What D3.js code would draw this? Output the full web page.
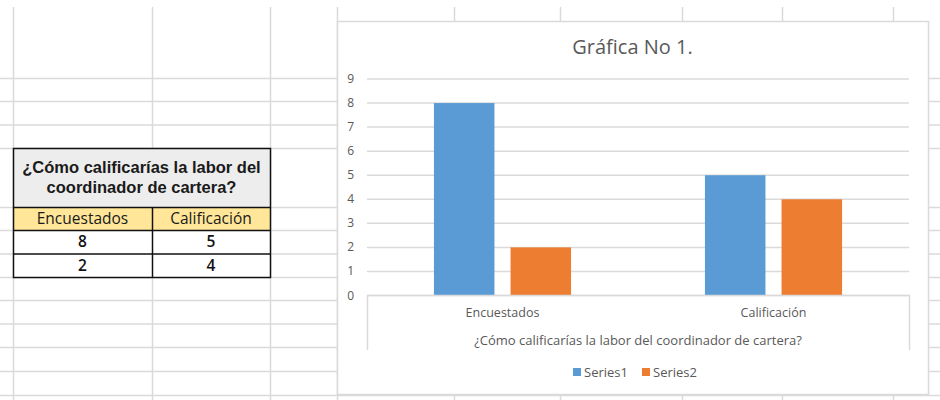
<!DOCTYPE html>
<html>
<head>
<meta charset="utf-8">
<script src="https://cdn.jsdelivr.net/npm/d3@7"></script>
<style>
  body { margin: 0; background: #fff; }
  svg { display: block; }
  text { font-family: "Open Sans", sans-serif; }
</style>
</head>
<body>
<svg id="sheet" width="940" height="400"></svg>
<script>
// data
var categories = ["Encuestados", "Calificación"];
var seriesNames = ["Series1", "Series2"];
var series1 = [8, 5];
var series2 = [2, 4];
var chartTitle = "Gráfica No 1.";
var axisTitle = "¿Cómo calificarías la labor del coordinador de cartera?";
var tableTitle = ["¿Cómo calificarías la labor del", "coordinador de cartera?"];

var colors = ["#5b9bd5", "#ed7d31"];
var gridColor = "#dadada";
var textColor = "#595959";

var svg = d3.select("#sheet");

// spreadsheet grid behind everything
var colLines = [13, 152, 270, 337, 454, 560, 682, 782, 893];
var rowLines = [78, 101, 124.5, 148, 207, 230, 253.5, 277, 300, 323.5, 347, 371, 395];

svg.selectAll(".col")
    .data(colLines)
    .enter()
    .append("line")
    .attr("x1", d => d + 0.5).attr("x2", d => d + 0.5)
    .attr("y1", 7).attr("y2", 400)
    .attr("stroke", gridColor)
    .attr("stroke-width", 1.5)

svg.selectAll(".row")
    .data(rowLines)
    .enter()
    .append("line")
    .attr("x1", 0).attr("x2", 940)
    .attr("y1", d => d + 0.5).attr("y2", d => d + 0.5)
    .attr("stroke", gridColor)
    .attr("stroke-width", 1.5)

// the table on the left
var tbl = svg.append("g")
var tx0 = 13, tx1 = 152, tx2 = 270
var ty0 = 148, ty1 = 207, ty2 = 230, ty3 = 253.5, ty4 = 277

tbl.append("rect").attr("x", tx0).attr("y", ty0).attr("width", tx2 - tx0).attr("height", ty1 - ty0).attr("fill", "#ededed")
tbl.append("rect").attr("x", tx0).attr("y", ty1).attr("width", tx2 - tx0).attr("height", ty2 - ty1).attr("fill", "#ffe699")
tbl.append("rect").attr("x", tx0).attr("y", ty2).attr("width", tx2 - tx0).attr("height", ty4 - ty2).attr("fill", "#fff")

tbl.selectAll(".ttl")
    .data(tableTitle)
    .enter()
    .append("text")
    .attr("x", (tx0 + tx2) / 2)
    .attr("y", (d, i) => 173 + i * 20)
    .attr("text-anchor", "middle")
    .style("font-family", "'Liberation Sans', Arial, sans-serif")
    .style("font-weight", "bold")
    .style("font-size", "16.5px")
    .attr("fill", "#1a1a1a")
    .text(d => d)

var colCenters = [(tx0 + tx1) / 2, (tx1 + tx2) / 2]
tbl.selectAll(".hdr")
    .data(categories)
    .enter()
    .append("text")
    .attr("x", (d, i) => colCenters[i])
    .attr("y", 224)
    .attr("text-anchor", "middle")
    .style("font-size", "15.5px")
    .attr("fill", "#1a1a1a")
    .text(d => d)

var rows = [series1, series2]
rows.forEach(function (vals, r) {
    tbl.selectAll(".v" + r)
        .data(vals)
        .enter()
        .append("text")
        .attr("x", (d, i) => colCenters[i])
        .attr("y", 247 + r * 23.5)
        .attr("text-anchor", "middle")
        .style("font-size", "15.5px")
        .style("font-weight", "600")
        .attr("fill", "#111")
        .text(d => d)
})

var border = "#111"
tbl.append("rect").attr("x", tx0 + 0.5).attr("y", ty0 + 0.5).attr("width", tx2 - tx0).attr("height", ty4 - ty0)
    .attr("fill", "none").attr("stroke", border).attr("stroke-width", 1.5)
;[ty1, ty2, ty3].forEach(function (y) {
    tbl.append("line").attr("x1", tx0).attr("x2", tx2 + 0.5).attr("y1", y + 0.5).attr("y2", y + 0.5)
        .attr("stroke", border).attr("stroke-width", 1.5)
})
tbl.append("line").attr("x1", tx1 + 0.5).attr("x2", tx1 + 0.5).attr("y1", ty1).attr("y2", ty4)
    .attr("stroke", border).attr("stroke-width", 1.5)

// the chart object
var cx0 = 337, cy0 = 21, cx1 = 928, cy1 = 394
svg.append("rect")
    .attr("x", cx0 + 0.5).attr("y", cy0 + 0.5)
    .attr("width", cx1 - cx0).attr("height", cy1 - cy0)
    .attr("fill", "#fff")
    .attr("stroke", gridColor)
    .attr("stroke-width", 1.5)

svg.append("text")
    .attr("x", (cx0 + cx1) / 2)
    .attr("y", 54)
    .attr("text-anchor", "middle")
    .style("font-size", "20px")
    .attr("fill", textColor)
    .text(chartTitle)

var plotLeft = 367, plotRight = 909
var x0 = d3.scaleBand()
    .domain(categories)
    .range([plotLeft, plotRight])
    .paddingInner(0.494)
    .paddingOuter(0.247)

var x1 = d3.scaleBand()
    .domain(seriesNames)
    .range([0, x0.bandwidth()])
    .paddingInner(0.21)

var y = d3.scaleLinear()
    .domain([0, 9])
    .range([295.5, 79])

// gridlines
svg.append("g")
    .selectAll("line")
    .data(y.ticks(9))
    .enter()
    .append("line")
    .attr("x1", plotLeft).attr("x2", plotRight)
    .attr("y1", d => y(d)).attr("y2", d => y(d))
    .attr("stroke", gridColor)
    .attr("stroke-width", 1.5)

svg.append("g")
    .selectAll("text")
    .data(y.ticks(9))
    .enter()
    .append("text")
    .attr("x", 354)
    .attr("y", d => y(d) + 4)
    .attr("text-anchor", "end")
    .style("font-size", "12px")
    .attr("fill", textColor)
    .text(d => d)

// bars
var allSeries = [series1, series2]
var groups = svg.append("g")
    .selectAll("g")
    .data(categories)
    .enter()
    .append("g")
    .attr("transform", d => "translate(" + x0(d) + ",0)")

groups.selectAll("rect")
    .data((c, ci) => seriesNames.map((s, si) => ({ s: s, v: allSeries[si][ci], i: si })))
    .enter()
    .append("rect")
    .attr("x", d => x1(d.s))
    .attr("width", x1.bandwidth())
    .attr("y", d => y(d.v))
    .attr("height", d => y(0) - y(d.v))
    .attr("fill", d => colors[d.i])

// category axis box (multi-level labels)
var axisY = y(0)
svg.append("path")
    .attr("d", "M" + (plotLeft + 0.5) + "," + 350 + "V" + axisY + "H" + (plotRight + 0.5) + "V" + 350)
    .attr("fill", "none")
    .attr("stroke", gridColor)
    .attr("stroke-width", 1.5)

svg.append("g")
    .selectAll("text")
    .data(categories)
    .enter()
    .append("text")
    .attr("x", d => x0(d) + x0.bandwidth() / 2)
    .attr("y", 317)
    .attr("text-anchor", "middle")
    .style("font-size", "12.5px")
    .attr("fill", textColor)
    .text(d => d)

svg.append("text")
    .attr("x", (plotLeft + plotRight) / 2)
    .attr("y", 345)
    .attr("text-anchor", "middle")
    .style("font-size", "13px")
    .attr("fill", textColor)
    .text(axisTitle)

// legend
var legendX = [573, 642]
var legend = svg.append("g")
    .selectAll("g")
    .data(seriesNames)
    .enter()
    .append("g")
    .attr("transform", (d, i) => "translate(" + legendX[i] + ",368)")

legend.append("rect")
    .attr("width", 8).attr("height", 8)
    .attr("fill", (d, i) => colors[i])

legend.append("text")
    .attr("x", 11)
    .attr("y", 8.5)
    .style("font-size", "13px")
    .attr("fill", textColor)
    .text(d => d)
</script>
</body>
</html>
